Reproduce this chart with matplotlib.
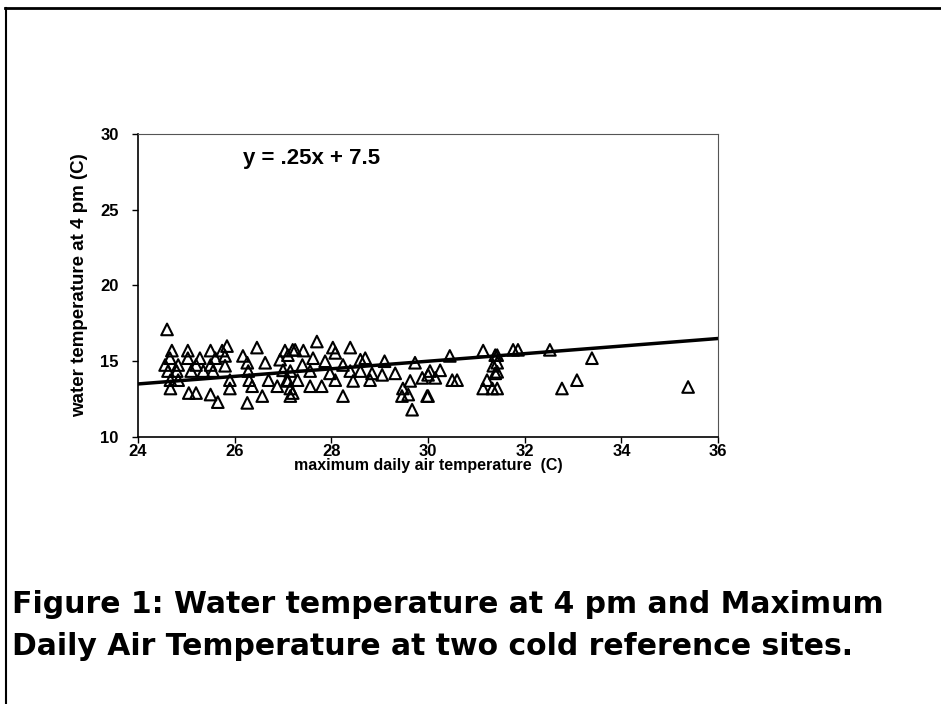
import matplotlib.pyplot as plt
import numpy as np

# maximum daily air temperature (C) and water temperature at 4 pm (C)
air_temp = [
    24.60, 24.70, 25.03, 25.50, 25.74, 24.66, 25.03, 25.28, 25.60, 24.56,
    24.83, 25.20, 25.50, 24.62, 24.80, 25.10, 25.35, 25.55, 24.67, 24.83,
    24.67, 25.05, 25.20, 25.50, 25.65,
    25.84, 26.46, 25.80, 26.17, 27.04, 27.20, 26.63, 26.26, 26.94, 25.80,
    26.28, 27.00, 25.90, 26.30, 26.70, 27.08, 25.90, 26.36, 26.88, 27.15,
    26.57, 27.15, 26.26,
    27.70, 27.25, 27.42, 28.03, 28.39, 27.10, 27.62, 28.08, 27.40, 27.87,
    28.24, 28.60, 27.15, 27.56, 27.97, 28.39, 27.10, 27.30, 27.56, 27.80,
    28.08, 28.45, 27.20, 28.24,
    28.70, 29.10, 29.73, 28.60, 28.84, 29.05, 29.32, 29.88, 30.04, 28.80,
    29.63, 29.48, 29.46, 29.59, 29.98, 29.67,
    30.45, 31.14, 31.39, 30.00, 30.25, 30.15, 30.50, 30.60, 31.35, 31.39,
    31.22, 31.14, 31.33, 30.00,
    31.76, 31.86, 32.52, 31.43, 31.43, 31.43, 33.39, 33.08, 32.77, 31.43,
    35.38,
]
water_temp = [
    17.10, 15.70, 15.70, 15.70, 15.70, 15.20, 15.20, 15.20, 15.20, 14.75,
    14.75, 14.75, 14.75, 14.35, 14.35, 14.35, 14.35, 14.35, 13.75, 13.75,
    13.20, 12.90, 12.90, 12.80, 12.30,
    16.00, 15.90, 15.35, 15.35, 15.70, 15.75, 14.90, 14.90, 15.10, 14.70,
    14.35, 14.40, 13.75, 13.75, 13.75, 13.75, 13.20, 13.35, 13.35, 13.20,
    12.70, 12.70, 12.25,
    16.30, 15.75, 15.70, 15.90, 15.90, 15.40, 15.20, 15.55, 14.75, 15.00,
    14.75, 15.10, 14.35, 14.35, 14.20, 14.35, 13.70, 13.75, 13.35, 13.35,
    13.75, 13.70, 12.90, 12.70,
    15.20, 15.00, 14.90, 14.35, 14.20, 14.10, 14.20, 13.90, 14.35, 13.75,
    13.70, 13.20, 12.70, 12.80, 12.70, 11.80,
    15.35, 15.70, 15.40, 14.10, 14.40, 13.90, 13.75, 13.75, 14.70, 14.20,
    13.75, 13.20, 13.20, 12.70,
    15.75, 15.75, 15.75, 15.40, 14.90, 14.30, 15.20, 13.75, 13.20, 13.20,
    13.30,
]

# fitted line y = .25x + 7.5
slope = 0.25
intercept = 7.5
x_ticks = [24, 26, 28, 30, 32, 34, 36]
y_ticks = [10, 15, 20, 25, 30]

plt.rcParams['font.family'] = ['Liberation Sans', 'DejaVu Sans']

fig = plt.figure(figsize=(9.41, 7.04), dpi=100)
ax = fig.add_axes([0.1467, 0.3793, 0.6164, 0.4304])

line_x = np.array([24, 36])
ax.plot(line_x, slope * line_x + intercept, color='black', linewidth=2.5, zorder=2)
ax.scatter(air_temp, water_temp, marker='^', s=70, facecolors='none',
           edgecolors='black', linewidths=1.5, zorder=3)

ax.set_xlim(24, 36)
ax.set_ylim(10, 30)
ax.set_xticks(x_ticks)
ax.set_yticks(y_ticks)
ax.tick_params(axis='both', labelsize=12, length=4, width=1, direction='out')
ax.tick_params(axis='y', pad=10)
ax.tick_params(axis='x', pad=1)
for lbl in ax.get_xticklabels() + ax.get_yticklabels():
    lbl.set_fontweight('bold')

ax.spines['left'].set_linewidth(1.2)
ax.spines['bottom'].set_linewidth(1.2)
ax.spines['top'].set_linewidth(0.8)
ax.spines['top'].set_color('#555555')
ax.spines['right'].set_linewidth(0.8)
ax.spines['right'].set_color('#555555')

ax.set_xlabel('maximum daily air temperature  (C)', fontsize=11.5, fontweight='bold', labelpad=-1)
ax.set_ylabel('water temperature at 4 pm (C)', fontsize=13.5, fontweight='bold', labelpad=9)

ax.text(0.181, 0.92, 'y = .25x + 7.5', transform=ax.transAxes, fontsize=16,
        fontweight='bold', va='center', ha='left')

# page border (top and left edges)
fig.add_artist(plt.Line2D([0.005, 1.0], [0.988, 0.988], color='black', linewidth=2))
fig.add_artist(plt.Line2D([0.006, 0.006], [0.0, 0.988], color='black', linewidth=1.5))

fig.text(0.013, 0.1115, 'Figure 1: Water temperature at 4 pm and Maximum\n'
         'Daily Air Temperature at two cold reference sites.',
         fontsize=21.5, fontweight='bold', family='DejaVu Sans',
         ha='left', va='center', linespacing=1.6)

plt.savefig('out.png', dpi=100)
